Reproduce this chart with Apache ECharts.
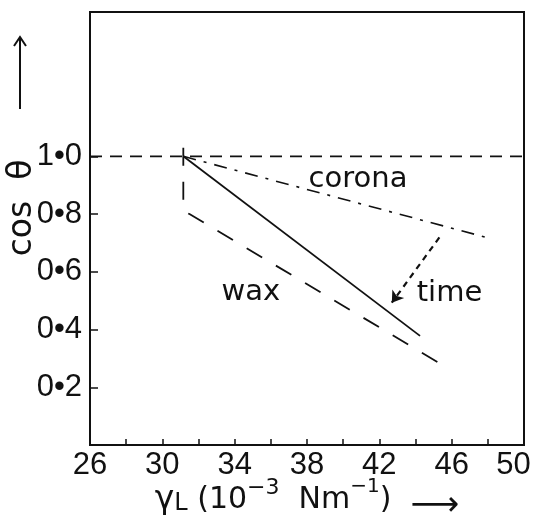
<!DOCTYPE html>
<html>
<head>
<meta charset="utf-8">
<script src="https://cdn.jsdelivr.net/npm/echarts@6/dist/echarts.min.js"></script>
<style>
  html, body { margin: 0; padding: 0; background: #fff; }
  #chart { width: 533px; height: 515px; }
</style>
</head>
<body>
<div id="chart"></div>
<script>
// axis ticks / labels
const xLabelValues = [26, 30, 34, 38, 42, 46, 50];
const xTickValues = [28, 30, 32, 34, 36, 38, 40, 42, 44, 46, 48];
const yTickValues = [0.2, 0.4, 0.6, 0.8, 1.0];

// cos theta = 1 (complete wetting)
const fullWetting = [[26, 1.0], [50, 1.0]];
// wax: dashed, drops straight down first then runs down to the right
const waxLine = [[31.16, 1.03], [31.16, 0.83], [31.25, 0.808], [31.5, 0.8], [45.9, 0.262]];
// untreated: solid
const solidLine = [[31.16, 1.0], [44.25, 0.378]];
// corona treated: dash-dot
const coronaLine = [[31.16, 1.0], [48.22, 0.714]];
// arrow showing the change with time
const timeArrow = [[45.32, 0.719], [42.69, 0.493]];

// text written inside the plot
const noteNames = ['corona', 'wax', 'time'];
const notePoints = [[40.82, 0.92], [34.9, 0.53], [45.88, 0.526]];

const ink = '#111';
const mainFont = "'DejaVu Sans', sans-serif";
const numFont = "'Liberation Sans', sans-serif";

function lineSeries(data, dash, width) {
  return {
    type: 'line',
    data: data,
    symbol: 'none',
    silent: true,
    animation: false,
    lineStyle: { color: ink, width: width, type: dash }
  };
}

let myChart = echarts.init(document.getElementById('chart'));
myChart.setOption({
  animation: false,
  grid: {
    left: 90, top: 12, width: 434, height: 433,
    show: true, borderColor: ink, borderWidth: 2,
    outerBoundsMode: 'none'
  },
  xAxis: {
    type: 'value', min: 26, max: 50,
    axisLine: { show: true, lineStyle: { color: ink, width: 2 } },
    axisTick: { show: true, inside: true, length: 6, customValues: xTickValues, lineStyle: { color: ink, width: 1.5 } },
    axisLabel: {
      customValues: xLabelValues, margin: 5,
      fontSize: 31, fontFamily: numFont, color: ink,
      formatter: function (v) { return v === 50 ? '{e|50}' : String(v); },
      rich: { e: { fontSize: 31, fontFamily: numFont, color: ink, padding: [0, 21, 0, 0] } }
    },
    splitLine: { show: false },
    name: '{g|γ}{s|L}{n| (10}{p|−3}{n|  Nm}{q|−1}{n|)  }{a|⟶}',
    nameLocation: 'middle',
    nameGap: 32,
    nameMoveOverlap: false,
    nameTextStyle: {
      color: ink, fontFamily: mainFont, fontSize: 30,
      rich: {
        g: { fontSize: 33, fontFamily: mainFont, color: ink, lineHeight: 46 },
        s: { fontSize: 24, fontFamily: mainFont, color: ink, lineHeight: 24, verticalAlign: 'middle', padding: [8, 0, 0, 0] },
        n: { fontSize: 30, fontFamily: mainFont, color: ink, lineHeight: 46 },
        p: { fontSize: 22, fontFamily: mainFont, color: ink, lineHeight: 22, verticalAlign: 'top' },
        q: { fontSize: 20, fontFamily: mainFont, color: ink, lineHeight: 20, verticalAlign: 'top' },
        a: { fontSize: 34, fontFamily: mainFont, color: ink, lineHeight: 40, verticalAlign: 'bottom' }
      }
    }
  },
  yAxis: {
    type: 'value', min: 0, max: 1.5,
    axisLine: { show: true, lineStyle: { color: ink, width: 2 } },
    axisTick: { show: true, inside: true, length: 8, customValues: yTickValues, lineStyle: { color: ink, width: 1.5 } },
    axisLabel: {
      customValues: yTickValues, margin: 8,
      fontSize: 31, fontFamily: numFont, color: ink,
      formatter: function (v) { return v.toFixed(1).replace('.', '•'); }
    },
    splitLine: { show: false }
  },
  series: [
    lineSeries(fullWetting, [12, 8], 1.6),
    lineSeries(waxLine, [18, 16], 1.8),
    lineSeries(solidLine, 'solid', 1.8),
    lineSeries(coronaLine, [13, 8, 3, 8], 1.6),
    {
      type: 'line',
      data: [],
      silent: true,
      markLine: {
        silent: true,
        animation: false,
        symbol: ['none', 'arrow'],
        symbolSize: 11,
        label: { show: false },
        lineStyle: { color: ink, width: 2.2, type: [6, 5] },
        data: [[{ coord: timeArrow[0] }, { coord: timeArrow[1] }]]
      }
    }
  ]
});

// y axis title with its arrow, and the notes placed through the grid's scales
let notes = noteNames.map(function (name, i) {
  let p = myChart.convertToPixel({ gridIndex: 0 }, notePoints[i]);
  return {
    type: 'text', x: p[0], y: p[1], silent: true,
    style: { text: name, font: '29px ' + mainFont, fill: ink, align: 'center', verticalAlign: 'middle' }
  };
});
myChart.setOption({
  graphic: [
    {
      type: 'text', x: 22, y: 208, rotation: Math.PI / 2, silent: true,
      style: { text: 'cos  θ', font: '33px ' + mainFont, fill: ink, align: 'center', verticalAlign: 'middle' }
    },
    { type: 'line', silent: true, shape: { x1: 20, y1: 109, x2: 20, y2: 38 }, style: { stroke: ink, lineWidth: 2 } },
    { type: 'polyline', silent: true, shape: { points: [[14, 46], [20, 37], [26, 46]] }, style: { stroke: ink, lineWidth: 2, fill: null } }
  ].concat(notes)
});
</script>
</body>
</html>
